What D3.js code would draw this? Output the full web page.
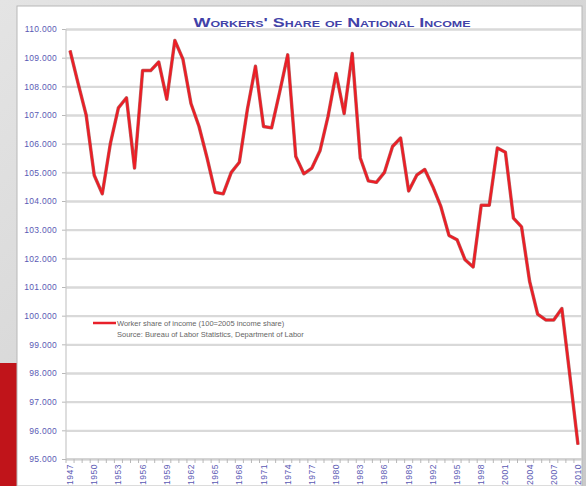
<!DOCTYPE html>
<html>
<head>
<meta charset="utf-8">
<script src="https://cdn.jsdelivr.net/npm/d3@7"></script>
<style>
  html, body { margin: 0; padding: 0; background: #d6d6d6; }
  svg { display: block; }
</style>
</head>
<body>
<svg id="chart" width="586" height="486"></svg>
<script>
const years = d3.range(1947, 2011);
const shareValues = [
  109.25, 108.1, 107.0, 104.9, 104.25, 106.0, 107.25, 107.6, 105.15, 108.55,
  108.55, 108.85, 107.55, 109.6, 108.95, 107.4, 106.6, 105.5, 104.3, 104.25,
  105.0, 105.35, 107.2, 108.7, 106.6, 106.55, 107.8, 109.1, 105.55, 104.95,
  105.15, 105.75, 106.95, 108.45, 107.05, 109.15, 105.5, 104.7, 104.65, 105.0,
  105.9, 106.2, 104.35, 104.9, 105.1, 104.5, 103.8, 102.8, 102.65, 101.95,
  101.7, 103.85, 103.85, 105.85, 105.7, 103.4, 103.1, 101.2, 100.05, 99.85,
  99.85, 100.25, 97.9, 95.5
];
const yTicks = d3.range(95, 111, 1);
const xTickLabels = years.filter(y => (y - 1947) % 3 === 0);
const titleText = "Workers' Share of National Income";
const legendLines = [
  "Worker share of income (100=2005 income share)",
  "Source: Bureau of Labor Statistics, Department of Labor"
];

(function () {
const svg = d3.select("#chart");
const W = 586, H = 486;

// slide background
const defs = svg.append("defs");
const g1 = defs.append("linearGradient").attr("id", "bg").attr("x1", 0).attr("y1", 0).attr("x2", 1).attr("y2", 1);
g1.append("stop").attr("offset", "0%").attr("stop-color", "#e4e4e4");
g1.append("stop").attr("offset", "100%").attr("stop-color", "#c9c9c9");
svg.append("rect").attr("width", W).attr("height", H).attr("fill", "url(#bg)");
svg.append("rect").attr("x", 0).attr("y", 363).attr("width", 17).attr("height", H - 363).attr("fill", "#c0141a");

// chart box
svg.append("rect").attr("x", 17).attr("y", 6).attr("width", 565).attr("height", H - 6)
  .attr("fill", "#ffffff").attr("stroke", "#b8b8b8").attr("stroke-width", 1);

const pl = 66, pr = 582, pt = 29, pb = 459;
const x = d3.scaleBand().domain(years).range([pl, pr]).padding(0);
const y = d3.scaleLinear().domain([95, 110]).range([pb, pt]);

// gridlines
const yAxis = d3.axisLeft(y).tickValues(yTicks).tickSize(-(pr - pl))
  .tickFormat(d => d3.format(".3f")(d));
const gy = svg.append("g").attr("transform", `translate(${pl},0)`).call(yAxis);
gy.select(".domain").remove();
gy.selectAll(".tick line").attr("stroke", "#d9d9d9").attr("stroke-width", 2.4);
gy.selectAll(".tick text").attr("x", -9).attr("fill", "#5a5ab4")
  .attr("font-family", "Liberation Sans, Arial, sans-serif").attr("font-size", 8.5)
  .attr("letter-spacing", 0.3);
gy.selectAll(".tick").append("line").attr("x1", -4).attr("x2", 0).attr("stroke", "#b8b8b8");

// axis lines
svg.append("line").attr("x1", pl).attr("x2", pl).attr("y1", pt).attr("y2", pb)
  .attr("stroke", "#c8c8c8").attr("stroke-width", 1.2);
svg.append("line").attr("x1", pl).attr("x2", pr).attr("y1", pb).attr("y2", pb)
  .attr("stroke", "#c8c8c8").attr("stroke-width", 1.2);

// x ticks at category boundaries
svg.append("g").selectAll("line").data(years).join("line")
  .attr("x1", d => x(d)).attr("x2", d => x(d))
  .attr("y1", pb).attr("y2", pb + 4)
  .attr("stroke", "#b8b8b8").attr("stroke-width", 1);

// x labels
svg.append("g").selectAll("text").data(xTickLabels).join("text")
  .attr("transform", d => `translate(${x(d) + x.bandwidth() / 2 + 3},${pb + 5}) rotate(-90)`)
  .attr("text-anchor", "end")
  .attr("fill", "#5a5ab4")
  .attr("font-family", "Liberation Sans, Arial, sans-serif")
  .attr("font-size", 8.5)
  .attr("letter-spacing", 0.5)
  .text(d => d);

// title
svg.append("text")
  .attr("x", 332).attr("y", 27)
  .attr("text-anchor", "middle")
  .attr("fill", "#4242a8")
  .attr("font-family", "Liberation Sans, Arial, sans-serif")
  .attr("font-size", 13)
  .attr("font-weight", "bold")
  .style("font-variant", "small-caps")
  .attr("textLength", 277)
  .attr("lengthAdjust", "spacingAndGlyphs")
  .text(titleText);

// line
const pts = years.map((yr, i) => [yr, shareValues[i]]);
const line = d3.line().x(d => x(d[0]) + x.bandwidth() / 2).y(d => y(d[1]));
svg.append("path").datum(pts).attr("d", line).attr("fill", "none")
  .attr("stroke", "#9a1a1a").attr("stroke-width", 3.4).attr("stroke-linejoin", "round").attr("opacity", 0.7);
svg.append("path").datum(pts).attr("d", line).attr("fill", "none")
  .attr("stroke", "#ee1c24").attr("stroke-width", 2.1).attr("stroke-linejoin", "round");

// legend
svg.append("line").attr("x1", 93).attr("x2", 116).attr("y1", 323).attr("y2", 323)
  .attr("stroke", "#e8202a").attr("stroke-width", 2.5);
svg.append("g").selectAll("text").data(legendLines).join("text")
  .attr("x", 117).attr("y", (d, i) => 326 + i * 11)
  .attr("fill", "#666")
  .attr("font-family", "Liberation Sans, Arial, sans-serif")
  .attr("font-size", 7.5)
  .text(d => d);
})();
</script>
</body>
</html>
